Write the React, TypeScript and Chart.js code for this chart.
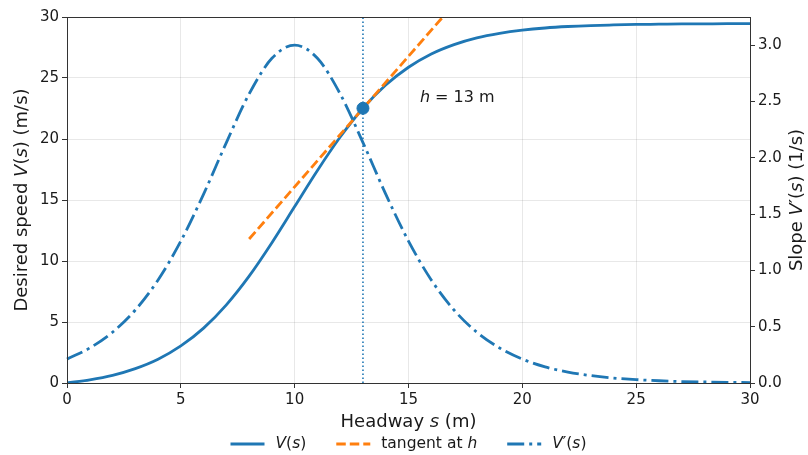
import { useEffect, useRef } from "react";
import { Chart, registerables } from "chart.js";
Chart.register(...registerables);

// Headway values (m)
const HEADWAY = [0,1,2,3,4,5,6,7,8,9,10,11,12,13,14,15,16,17,18,19,20,21,22,23,24,25,26,27,28,29,30];
// Desired speed V(s) (m/s)
const SPEED = [0,0.26,0.63,1.18,1.95,3.04,4.5,6.41,8.76,11.5,14.46,17.42,20.16,22.52,24.42,25.88,26.97,27.74,28.29,28.66,28.92,29.1,29.22,29.3,29.35,29.39,29.41,29.43,29.44,29.45,29.45];
// Slope V'(s) (1/s)
const SLOPE = [0.212,0.311,0.451,0.648,0.915,1.26,1.677,2.135,2.567,2.883,3.0,2.883,2.567,2.135,1.677,1.26,0.915,0.648,0.451,0.311,0.212,0.143,0.097,0.066,0.044,0.03,0.02,0.013,0.009,0.006,0.004];
// Tangent line at h
const TANGENT_X = [8, 18];
const TANGENT_Y = [11.8, 33.2];
// Selected headway
const H = 13;
const H_SPEED = 22.52;
const ANNOT_X = 15.5;
const ANNOT_Y = 23.4;

const X_TICKS_STEP = 5;
const Y_TICKS_STEP = 5;
const Y1_TICKS_STEP = 0.5;

const BLUE = "#1f77b4";
const ORANGE = "#ff7f0e";
const TEXT = "#1a1a1a";
const GRID = "rgba(0,0,0,0.09)";
const TICK = "#333";
const FONT = '"DejaVu Sans", sans-serif';
const DASHDOT = [17, 5, 3, 5];
const DASHED = [9.5, 4];
const LW = 2.8;

type Part = [string, boolean];

function drawRich(ctx: CanvasRenderingContext2D, parts: Part[], x: number, y: number, size: number, align: "left" | "center", rotate = 0) {
  ctx.save();
  ctx.translate(x, y);
  if (rotate) ctx.rotate(rotate);
  const fonts = parts.map(([, it]) => `${it ? "italic " : ""}${size}px ${FONT}`);
  let total = 0;
  const widths = parts.map(([t], i) => {
    ctx.font = fonts[i];
    const w = ctx.measureText(t).width;
    total += w;
    return w;
  });
  let cx = align === "center" ? -total / 2 : 0;
  ctx.textBaseline = "middle";
  ctx.textAlign = "left";
  ctx.fillStyle = TEXT;
  parts.forEach(([t], i) => {
    ctx.font = fonts[i];
    ctx.fillText(t, cx, 0);
    cx += widths[i];
  });
  ctx.restore();
  return total;
}

function measureRich(ctx: CanvasRenderingContext2D, parts: Part[], size: number) {
  let total = 0;
  ctx.save();
  parts.forEach(([t, it]) => {
    ctx.font = `${it ? "italic " : ""}${size}px ${FONT}`;
    total += ctx.measureText(t).width;
  });
  ctx.restore();
  return total;
}

const decorPlugin = {
  id: "decor",
  afterDatasetsDraw(chart: any) {
    const { ctx, chartArea: a, scales } = chart;
    // frame
    ctx.save();
    ctx.strokeStyle = "#333";
    ctx.lineWidth = 1;
    ctx.strokeRect(Math.round(a.left) + 0.5, Math.round(a.top) + 0.5, Math.round(a.right - a.left), Math.round(a.bottom - a.top));
    ctx.restore();

    // annotation
    drawRich(ctx, [["h", true], [" = 13 m", false]], scales.x.getPixelForValue(ANNOT_X), scales.y.getPixelForValue(ANNOT_Y), 16, "left");

    const cxMid = (a.left + a.right) / 2;
    // x title
    drawRich(ctx, [["Headway ", false], ["s", true], [" (m)", false]], cxMid, 422, 18, "center");
    // y title
    const cyMid = (a.top + a.bottom) / 2;
    drawRich(ctx, [["Desired speed ", false], ["V", true], ["(", false], ["s", true], [") (m/s)", false]], 22, cyMid, 18, "center", -Math.PI / 2);
    // y1 title
    drawRich(ctx, [["Slope ", false], ["V", true], ["′(", false], ["s", true], [") (1/s)", false]], 797, cyMid, 18, "center", -Math.PI / 2);

    // legend
    const items: { parts: Part[]; color: string; dash: number[] }[] = [
      { parts: [["V", true], ["(", false], ["s", true], [")", false]], color: BLUE, dash: [] },
      { parts: [["tangent at ", false], ["h", true]], color: ORANGE, dash: DASHED },
      { parts: [["V", true], ["′(", false], ["s", true], [")", false]], color: BLUE, dash: DASHDOT },
    ];
    const size = 15.5;
    const handle = 34, hgap = 11, igap = 30;
    const widths = items.map((it) => measureRich(ctx, it.parts, size));
    const total = widths.reduce((s, w) => s + handle + hgap + w, 0) + igap * (items.length - 1);
    let x = cxMid - total / 2;
    const ly = 444;
    items.forEach((it, i) => {
      ctx.save();
      ctx.strokeStyle = it.color;
      ctx.lineWidth = LW;
      ctx.setLineDash(it.dash);
      ctx.beginPath();
      ctx.moveTo(x, ly);
      ctx.lineTo(x + handle, ly);
      ctx.stroke();
      ctx.restore();
      drawRich(ctx, it.parts, x + handle + hgap, ly, size, "left");
      x += handle + hgap + widths[i] + igap;
    });
  },
};

export default function App() {
  const ref = useRef<HTMLCanvasElement | null>(null);
  useEffect(() => {
    document.body.style.margin = "0";
    if (!ref.current) return;
    const tickFont = { family: FONT, size: 15 };
    const chart = new Chart(ref.current, {
      type: "line",
      data: {
        datasets: [
          {
            label: "vline",
            data: [{ x: H, y: 0 }, { x: H, y: 30 }],
            borderColor: BLUE,
            borderWidth: 1.6,
            borderDash: [1.5, 2.5],
            pointRadius: 0,
            yAxisID: "y",
            order: 5,
          },
          {
            label: "V(s)",
            data: HEADWAY.map((s, i) => ({ x: s, y: SPEED[i] })),
            borderColor: BLUE,
            borderWidth: LW,
            pointRadius: 0,
            cubicInterpolationMode: "monotone",
            yAxisID: "y",
            order: 3,
          },
          {
            label: "tangent at h",
            data: TANGENT_X.map((s, i) => ({ x: s, y: TANGENT_Y[i] })),
            borderColor: ORANGE,
            borderWidth: LW,
            borderDash: DASHED,
            pointRadius: 0,
            yAxisID: "y",
            order: 2,
          },
          {
            label: "point",
            type: "scatter",
            data: [{ x: H, y: H_SPEED }],
            backgroundColor: BLUE,
            borderColor: BLUE,
            pointRadius: 6,
            yAxisID: "y",
            order: 1,
          } as any,
          {
            label: "V'(s)",
            data: HEADWAY.map((s, i) => ({ x: s, y: SLOPE[i] })),
            borderColor: BLUE,
            borderWidth: LW,
            borderDash: DASHDOT,
            pointRadius: 0,
            cubicInterpolationMode: "monotone",
            yAxisID: "y1",
            order: 0,
            clip: 3,
          } as any,
        ],
      },
      options: {
        animation: false,
        responsive: true,
        maintainAspectRatio: false,
        layout: { padding: { top: 17, left: 0, right: 0, bottom: 0 } },
        plugins: { legend: { display: false }, tooltip: { enabled: false } },
        scales: {
          x: {
            type: "linear",
            min: 0,
            max: 30,
            ticks: { stepSize: X_TICKS_STEP, font: tickFont, color: TEXT, padding: 3, maxRotation: 0 },
            grid: { color: GRID, tickColor: TICK, tickLength: 5, drawTicks: true },
            border: { display: false },
            afterFit: (s: any) => { s.height = 72; },
          },
          y: {
            position: "left",
            min: 0,
            max: 30,
            ticks: { stepSize: Y_TICKS_STEP, font: tickFont, color: TEXT, padding: 3 },
            grid: { color: GRID, tickColor: TICK, tickLength: 5, drawTicks: true },
            border: { display: false },
            afterFit: (s: any) => { s.width = 67; },
          },
          y1: {
            position: "right",
            min: 0,
            max: 3.25,
            ticks: {
              stepSize: Y1_TICKS_STEP,
              includeBounds: false,
              font: tickFont,
              color: TEXT,
              padding: 3,
              callback: (v: any) => Number(v).toFixed(1),
            },
            grid: { drawOnChartArea: false, tickColor: TICK, tickLength: 5, drawTicks: true },
            border: { display: false },
            afterFit: (s: any) => { s.width = 58; },
          },
        },
      } as any,
      plugins: [decorPlugin],
    });
    return () => chart.destroy();
  }, []);
  return (
    <div style={{ width: 808, height: 455, position: "relative" }}>
      <canvas ref={ref} />
    </div>
  );
}
